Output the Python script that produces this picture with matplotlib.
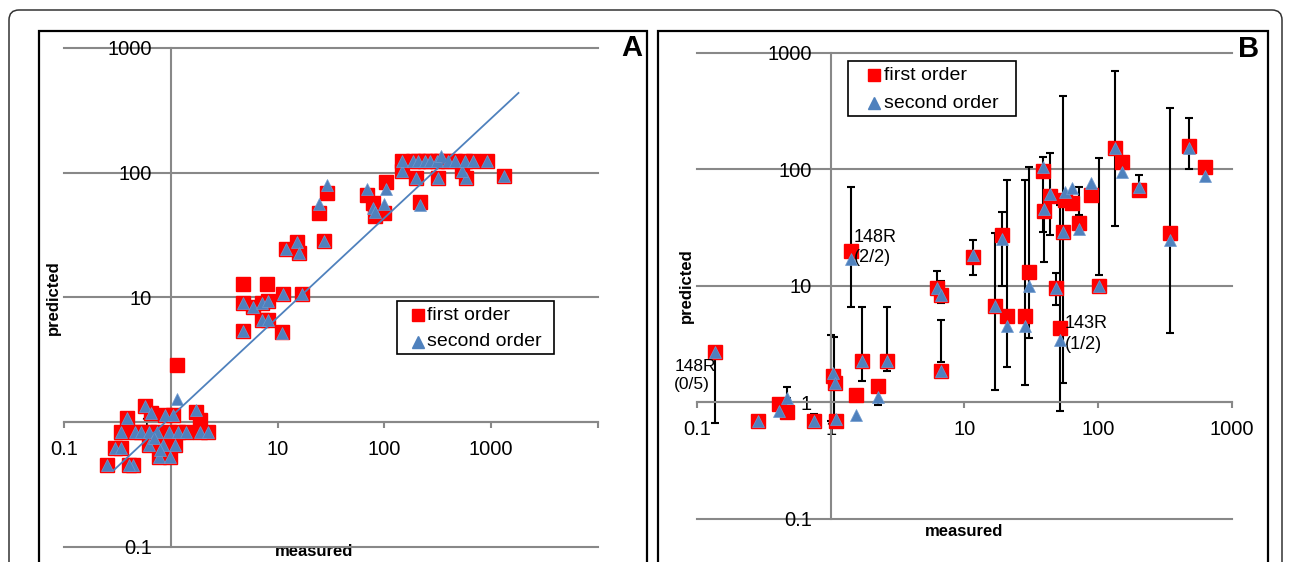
import numpy as np
import matplotlib.pyplot as plt
from matplotlib.patches import FancyBboxPatch, Rectangle
from matplotlib.lines import Line2D
from matplotlib.transforms import IdentityTransform

plt.rcParams['font.family'] = ['Liberation Sans', 'DejaVu Sans']

# ---- panel A data (measured vs predicted) ----
a_meas = [0.254, 0.443, 0.41, 0.30, 0.342, 0.342, 0.46, 0.526, 0.625, 0.74, 0.955, 1.18, 1.40, 1.89, 2.25,
          0.62, 0.84, 1.09, 0.77, 0.99, 0.39, 0.57, 0.65, 0.88, 1.04, 1.15, 1.15, 1.73, 1.86, 0.70, 0.80,
          4.77, 8.0, 4.77, 5.9, 7.1, 8.2, 7.1, 8.2, 4.77, 11.1, 11.3, 16.8, 12.0, 15.3, 16.0, 27.2,
          24.5, 28.8, 68.3, 78, 82, 104, 99, 215, 196, 317, 586, 1313, 530, 147,
          145, 187, 205, 240, 270, 309, 340, 394, 458, 569, 676, 908]
a_first = [0.455, 0.455, 0.455, 0.62, 0.62, 0.83, 0.83, 0.83, 0.83, 0.83, 0.83, 0.83, 0.83, 0.83, 0.83,
           0.66, 0.66, 0.66, 0.53, 0.53, 1.08, 1.34, 1.18, 1.15, 1.15, 2.89, np.nan, 1.2, 1.04, 0.75, 0.6,
           12.9, 12.9, 9.0, 8.3, 9.0, 9.3, 6.6, 6.6, 5.36, 5.3, 10.7, 10.7, 24.5, 27.7, 22.8, 28.2,
           47.6, 68.9, 66, 57, 45, 84, 47, 57.6, 90, 90, 90, 93, 102, 102,
           123, 123, 123, 123, 123, 123, 123, 123, 123, 123, 123, 123]
a_second = [0.455, 0.455, 0.455, 0.62, 0.62, 0.83, 0.83, 0.83, 0.83, 0.83, 0.83, 0.83, 0.83, 0.83, 0.83,
            0.66, 0.66, 0.66, 0.53, 0.53, 1.08, 1.34, 1.18, 1.15, 1.15, np.nan, 1.53, 1.25, np.nan, 0.75, 0.6,
            np.nan, np.nan, 9.0, 8.3, 9.0, 9.3, 6.6, 6.6, 5.36, 5.2, 10.7, 10.7, 24.5, 27.7, 22.8, 28.2,
            55.5, 78.8, 74, 52, 48, 74, 56, 55, 90, 90, 90, 93, 102, 102,
            123, 123, 123, 123, 123, 123, 135, 123, 123, 123, 123, 123]
trend_x = [0.29, 1800]
trend_y = [0.41, 434]

# ---- panel B data ----
b_meas = [0.137, 0.288, 0.41, 0.47, 0.746, 1.04, 1.08, 1.1, 1.56, 1.41, 1.71, 2.27, 2.62, 6.2, 6.74, 6.74,
          11.6, 16.9, 19.1, 20.9, 28.3, 30.6, 38.6, 39.3, 43.8, 48.7, 51.9, 54.5, 56.7, 63.8, 71.6, 89,
          102, 133, 151, 203, 347, 484, 634]
b_first = [2.71, 0.69, 0.97, 0.82, 0.69, 1.68, 1.46, 0.69, 1.16, 19.7, 2.28, 1.37, 2.28, 9.6, 8.37, 1.86,
           17.7, 6.7, 27.3, 5.48, 5.48, 13.1, 96.7, 44, 59.4, 9.6, 4.38, 29.1, 54.5, 51, 34.4, 60,
           9.95, 151, 116, 66.4, 28.2, 158, 104]
b_second = [2.71, 0.69, 0.85, 1.08, 0.69, 1.8, 1.46, 0.72, 0.78, 17.1, 2.28, 1.11, 2.28, 9.6, 8.37, 1.86,
            18.3, 6.7, 25, 4.52, 4.5, 9.9, 105, 46, 61, 9.6, 3.44, 29.1, 64, 69, 31, 75.8,
            9.95, 153, 95, 71, 24.7, 153, 87]
# error bars (x, low, high)
eb_x = [0.137, 0.47, 0.746, 1.01, 1.06, 1.41, 1.71, 2.27, 2.62, 6.2, 6.74, 6.74, 11.6, 16.9, 19.1, 20.9,
        28.3, 30.6, 38.6, 39.3, 43.8, 48.7, 51.9, 54.5, 71.6, 102, 133, 203, 347, 484]
eb_lo = [0.66, 1.08, 0.69, 0.69, 0.72, 6.6, 1.52, 0.94, 1.86, 9.6, 7.06, 2.21, 12.4, 1.28, 9.95, 1.99,
         1.42, 3.56, 29, 16.1, 27.4, 6.9, 0.85, 1.46, 40.5, 12.4, 32.6, 66.4, 3.9, 100.6]
eb_hi = [2.71, 1.36, 0.80, 3.78, 3.65, 70.5, 6.6, 1.37, 6.6, 13.5, 11, 5.08, 24.5, 28.2, 43, 81,
         81, 104, 128, 44, 139, 12.8, 49.4, 422, 71, 124, 702, 89, 334, 274]

yticks = [0.1, 1, 10, 100, 1000]
ylabels = ['0.1', '1', '10', '100', '1000']

W, H = 1290, 562
GRID = '#888888'
RED = '#FF0000'
BLUE = '#4F81BD'

fig = plt.figure(figsize=(W / 100, H / 100), dpi=100)


def pxbox(x0, y0, x1, y1):
    return [x0 / W, 1 - y1 / H, (x1 - x0) / W, (y1 - y0) / H]


def style(ax, xmax, xticks, xlabels):
    ax.set_xscale('log')
    ax.set_yscale('log')
    ax.set_xlim(0.1, xmax)
    ax.set_ylim(0.1, 1000)
    ax.patch.set_visible(False)
    for s in ['top', 'right']:
        ax.spines[s].set_visible(False)
    ax.spines['left'].set_position(('data', 1))
    ax.spines['bottom'].set_position(('data', 1))
    for s in ['left', 'bottom']:
        ax.spines[s].set_color(GRID)
        ax.spines[s].set_linewidth(1.5)
    ax.set_yticks(yticks)
    ax.set_yticklabels(ylabels)
    ax.set_xticks(xticks)
    ax.set_xticklabels(xlabels)
    ax.minorticks_off()
    ax.tick_params(axis='y', length=0, pad=13.5, labelsize=14.5)
    ax.tick_params(axis='x', length=4.5, width=1.5, color=GRID, pad=8, labelsize=14.5)
    ax.yaxis.grid(True, color=GRID, lw=1.5)
    for gl in ax.get_ygridlines():
        gl.set_clip_on(False)


def legend(x0, y0, x1, y1, mx, tx, r1, r2):
    fig.add_artist(Rectangle((x0, H - y1), x1 - x0, y1 - y0, transform=IdentityTransform(),
                             fill=False, ec='black', lw=1.2))
    fig.add_artist(Line2D([mx / W], [1 - r1 / H], marker='s', ms=8, color=RED, ls='none',
                          transform=fig.transFigure))
    fig.add_artist(Line2D([mx / W], [1 - r2 / H], marker='^', ms=8, color=BLUE, ls='none',
                          transform=fig.transFigure))
    fig.text(tx / W, 1 - r1 / H, 'first order', fontsize=14, va='center', ha='left')
    fig.text(tx / W, 1 - r2 / H, 'second order', fontsize=14, va='center', ha='left')


# outer frame and panel boxes
fig.add_artist(FancyBboxPatch((9, -40), 1273, H - 10 + 40, boxstyle='round,pad=0,rounding_size=10',
                              transform=IdentityTransform(), fill=False, ec='#333333', lw=1.1))
fig.add_artist(Rectangle((39, -10), 608, H - 31 + 10, transform=IdentityTransform(),
                         fill=False, ec='black', lw=1.6))
fig.add_artist(Rectangle((658, -10), 610, H - 31 + 10, transform=IdentityTransform(),
                         fill=False, ec='black', lw=1.6))

# ---- panel A ----
axA = fig.add_axes(pxbox(64, 47.7, 598, 547))
style(axA, 10000, [0.1, 1, 10, 100, 1000, 10000], ['0.1', '1', '10', '100', '1000', ''])
axA.plot(a_meas, a_first, 's', ms=9.5, color=RED, ls='none', zorder=3)
axA.plot(a_meas, a_second, '^', ms=9, color=BLUE, mec='#6F9AD0', mew=0.5, ls='none', zorder=4)
axA.plot(trend_x, trend_y, color=BLUE, lw=1.3, zorder=5)
axA.set_ylabel('predicted', fontsize=12, fontweight='bold', va='center')
axA.yaxis.set_label_coords(-0.019, 0.5)
axA.set_xlabel('measured', fontsize=12, fontweight='bold', va='center')
axA.xaxis.set_label_coords(0.468, -0.009)
fig.text(632 / W, 1 - 48 / H, 'A', fontsize=21, fontweight='bold', ha='center', va='center')
legend(396.5, 301.3, 554.2, 354.1, 418, 427.4, 315, 342)

# ---- panel B ----
axB = fig.add_axes(pxbox(697, 52.8, 1231.6, 518.8))
style(axB, 1000, [0.1, 1, 10, 100, 1000], ['0.1', '1', '10', '100', '1000'])
lo = np.array(eb_lo)
hi = np.array(eb_hi)
axB.errorbar(eb_x, lo, yerr=[np.zeros_like(lo), hi - lo], fmt='none', ecolor='black',
             elinewidth=1.5, capsize=3, capthick=1.5, zorder=2.5)
axB.plot(b_meas, b_first, 's', ms=9.5, color=RED, ls='none', zorder=3)
axB.plot(b_meas, b_second, '^', ms=9, color=BLUE, mec='#6F9AD0', mew=0.5, ls='none', zorder=4)
axB.set_ylabel('predicted', fontsize=12, fontweight='bold', va='center')
axB.yaxis.set_label_coords(-0.0206, 0.5)
axB.set_xlabel('measured', fontsize=12, fontweight='bold', va='center')
axB.xaxis.set_label_coords(0.5, -0.0275)
fig.text(1249 / W, 1 - 49.4 / H, 'B', fontsize=21, fontweight='bold', ha='center', va='center')
legend(847.5, 60.8, 1016, 116.1, 874, 884, 75, 103)

axB.annotate('148R\n(0/5)', (0.137, 2.71), xytext=(-41, -24), textcoords='offset pixels',
             fontsize=12.5, ha='left', va='center', linespacing=1.25)
axB.annotate('148R\n(2/2)', (1.41, 19.7), xytext=(3, 4), textcoords='offset pixels',
             fontsize=13, ha='left', va='center', linespacing=1.3)
axB.annotate('143R\n(1/2)', (51.9, 4.38), xytext=(5, -6), textcoords='offset pixels',
             fontsize=13, ha='left', va='center', linespacing=1.3)

fig.savefig('out.png', dpi=100)
